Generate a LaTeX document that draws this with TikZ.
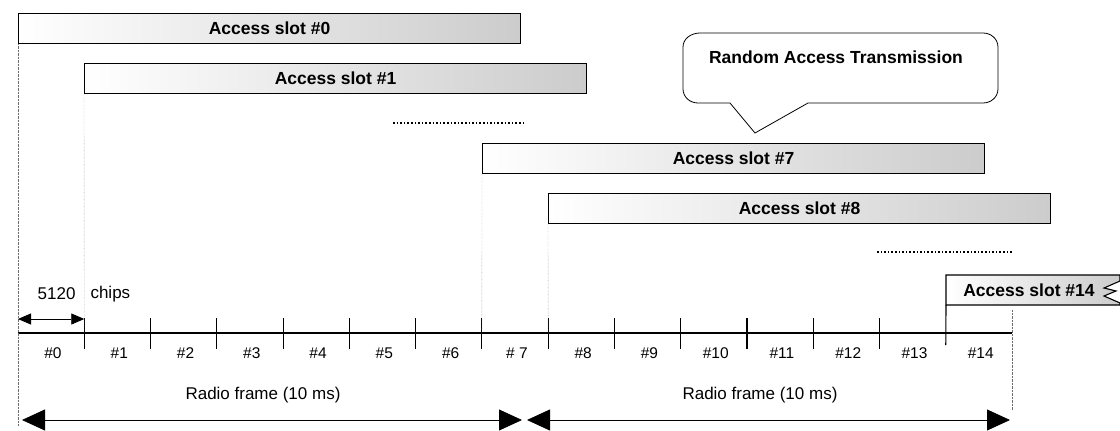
\documentclass[tikz,border=0pt]{standalone}
\usepackage{fontspec}
\setmainfont{Liberation Sans}
\usetikzlibrary{arrows.meta, positioning, calc}
\definecolor{slotgray}{RGB}{204,204,204}
\definecolor{guidegray}{RGB}{110,110,110}

\begin{document}
\begin{tikzpicture}[x=1pt,y=-1pt,
    slotbox/.style={draw,line width=1.1pt,left color=white,right color=slotgray,minimum width=502pt,
                    minimum height=30pt,anchor=north west,inner sep=0pt,
                    font=\fontsize{17.5}{20}\selectfont\bfseries},
    lbl/.style={font=\fontsize{17}{20}\selectfont},
    guide/.style={densely dotted,guidegray},
    dots/.style={line width=1.6pt,dash pattern=on 1.6pt off 2pt},
    tick/.style={line width=1.1pt},
    span/.style={{Triangle[length=13pt,width=11pt]}-{Triangle[length=13pt,width=11pt]},thick},
    framearr/.style={{Triangle[length=23pt,width=21pt]}-{Triangle[length=23pt,width=21pt]},thick}
]
  \useasboundingbox (0,0) rectangle (1120,431);

  % Access slots
  \node[slotbox] (as0) at (18,13) {Access slot \#0};
  \node[slotbox] (as1) at (84,63) {Access slot \#1};
  \node[slotbox] (as7) at (482,143) {Access slot \#7};
  \node[slotbox] (as8) at (548,193) {Access slot \#8};
  \draw[dots] (393,123) -- (523,123);
  \draw[dots] (877,252) -- (1012,252);

  % Last slot, broken off at the right
  \draw[line width=1.1pt,left color=white,right color=slotgray]
    (946,275) -- (1120,275) -- (1120,281) -- (1104,288) -- (1116,291) -- (1104,296)
    -- (1120,303) -- (1120,305) -- (946,305) -- cycle;
  \node[font=\fontsize{17.5}{20}\selectfont\bfseries] (as14) at (1029,290) {Access slot \#14};

  % Callout
  \draw[thick] (700,33) -- (983,33) to[out=0,in=90] (998,47) -- (998,89)
    to[out=-90,in=0] (983,103) -- (808,103) -- (755,133) -- (730,103) -- (698,103)
    to[out=180,in=-90] (683,89) -- (683,47) to[out=90,in=180] (700,33);
  \node[font=\fontsize{17.5}{20}\selectfont\bfseries] (rat) at (836,57) {Random Access Transmission};

  % Time axis with slot boundaries
  \foreach \i in {0,...,15}
    \coordinate (t\i) at (18+66.27*\i,333);
  \draw[line width=1.2pt] (t0) -- (t15);
  \foreach \i in {1,...,13}
    \draw[tick] ($(t\i)+(0,-15)$) -- ($(t\i)+(0,16)$);
  \draw[tick] (946,305) -- ($(t14)+(0,12)$);
  \foreach \t [count=\i from 0] in {\#0,\#1,\#2,\#3,\#4,\#5,\#6,\# 7,\#8,\#9,\#10,\#11,\#12,\#13,\#14}
    \node[font=\fontsize{15.5}{18}\selectfont] (s\i) at ($(t\i)+(35,20)$) {\t};

  % Slot start guides
  \draw[guide] (as0.south west) -- (18,425);
  \draw[guide] (as1.south west) -- (t1);
  \draw[guide] (as7.south west) -- (t7);
  \draw[guide] (as8.south west) -- (t8);
  \draw[guide] ($(t15)+(0,-23)$) -- ($(t15)+(0,77)$);

  % One slot length
  \draw[span] ($(t0)+(0,-14)$) -- ($(t1)+(0,-14)$);
  \node[lbl,anchor=east] (len) at (79,294) {5120};
  \node[lbl,anchor=west] (chips) at (87,294) {chips};

  % Radio frames
  \coordinate (f0) at (22,420);
  \coordinate (f1) at (522,420);
  \coordinate (f2) at (527,420);
  \coordinate (f3) at (1010,420);
  \draw[framearr] (f0) -- (f1);
  \draw[framearr] (f2) -- (f3);
  \node[lbl] (rf1) at (263,395) {Radio frame (10 ms)};
  \node[lbl] (rf2) at (760,395) {Radio frame (10 ms)};
\end{tikzpicture}
\end{document}
